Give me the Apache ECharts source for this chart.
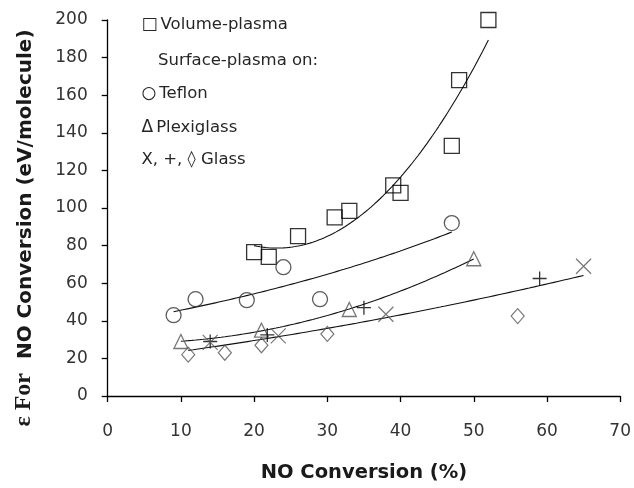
<!DOCTYPE html>
<html>
<head>
<meta charset="utf-8">
<script src="https://cdn.jsdelivr.net/npm/echarts@6/dist/echarts.min.js"></script>
<style>html,body{margin:0;padding:0;background:#fff}#c{width:634px;height:488px}</style>
</head>
<body>
<div id="c"></div>
<script>
// ---- data ----
const xTicks = [0, 10, 20, 30, 40, 50, 60, 70];
const yTicks = [0, 20, 40, 60, 80, 100, 120, 140, 160, 180, 200];

const xVolume = [20, 22, 26, 31, 33, 39, 40, 47, 48, 52];
const yVolume = [76.5, 74, 85, 95, 98.5, 112, 108, 133, 168, 200];

const xTeflon = [9, 12, 19, 24, 29, 47];
const yTeflon = [43, 51.5, 51, 68.5, 51.5, 92];

const xPlexi = [10, 21, 33, 50];
const yPlexi = [29, 35, 46, 73];

const xGlassPlus = [14, 21.8, 35, 59];
const yGlassPlus = [29, 32.5, 47, 62.5];

const xGlassX = [14, 23.3, 38, 65];
const yGlassX = [28.5, 32, 43.5, 69];

const xGlassDiamond = [11, 16, 21, 30, 56];
const yGlassDiamond = [22, 23, 27, 33, 42.5];

const xTitle = 'NO Conversion (%)';
const yTitleSymbol = '\u03B5 For';
const yTitleText = '  NO Conversion (eV/molecule)';
const legendSymbols = ['\u25A1', '', '\u25CB', '\u0394', ''];
const legendTexts = ['Volume-plasma', 'Surface-plasma on:', 'Teflon', 'Plexiglass', 'X, +, \u25CA Glass'];

// ---- helpers ----
function pairs(xs, ys) { return xs.map((x, i) => [x, ys[i]]); }
function polyFit2(xs, ys) {
  const n = xs.length; let S = [0,0,0,0,0], T = [0,0,0];
  for (let i = 0; i < n; i++) {
    let p = 1;
    for (let k = 0; k < 5; k++) { S[k] += p; if (k < 3) T[k] += p * ys[i]; p *= xs[i]; }
  }
  const A = [[S[0],S[1],S[2],T[0]],[S[1],S[2],S[3],T[1]],[S[2],S[3],S[4],T[2]]];
  for (let c = 0; c < 3; c++) {
    let piv = c; for (let r = c+1; r < 3; r++) if (Math.abs(A[r][c]) > Math.abs(A[piv][c])) piv = r;
    [A[c], A[piv]] = [A[piv], A[c]];
    for (let r = 0; r < 3; r++) if (r !== c) { const f = A[r][c] / A[c][c]; for (let k = c; k < 4; k++) A[r][k] -= f * A[c][k]; }
  }
  const c0 = A[0][3]/A[0][0], c1 = A[1][3]/A[1][1], c2 = A[2][3]/A[2][2];
  return x => c0 + c1*x + c2*x*x;
}
function expFit(xs, ys) {
  const n = xs.length; const ly = ys.map(Math.log);
  const mx = xs.reduce((a,b)=>a+b,0)/n, my = ly.reduce((a,b)=>a+b,0)/n;
  let sxy = 0, sxx = 0; for (let i = 0; i < n; i++) { sxy += (xs[i]-mx)*(ly[i]-my); sxx += (xs[i]-mx)**2; }
  const b = sxy/sxx, a = Math.exp(my - b*mx);
  return x => a*Math.exp(b*x);
}
function trend(xs, f) {
  const lo = Math.min(...xs), hi = Math.max(...xs), out = [];
  for (let i = 0; i <= 80; i++) { const x = lo + (hi-lo)*i/80; out.push([x, f(x)]); }
  return out;
}

const xGlassAll = xGlassX.concat(xGlassPlus, xGlassDiamond);
const yGlassAll = yGlassX.concat(yGlassPlus, yGlassDiamond);

const FONT = 'DejaVu Sans';
const TXT = '#262626';
const chart = echarts.init(document.getElementById('c'), null, {renderer: 'canvas'});

function hollow(name, xs, ys, symbol, size, color, bw) {
  return { name, type: 'scatter', data: pairs(xs, ys), symbol, symbolSize: size, clip: false, z: 3,
    itemStyle: { color: 'rgba(0,0,0,0)', borderColor: color, borderWidth: bw || 1.2 } };
}
function trendLine(data) {
  return { type: 'line', data, showSymbol: false, silent: true, smooth: false, z: 2,
    lineStyle: { color: '#111', width: 1.1 } };
}
const legendY = [25, 61, 94, 128, 160];
const legendX = [141.5, 158, 141.5, 141.5, 141.5];
const legendGraphics = legendTexts.map((t, i) => ({
  type: 'text', x: legendX[i], y: legendY[i],
  style: {
    text: (legendSymbols[i] ? '{s|' + legendSymbols[i] + '}' : '') + '{t|' + t + '}',
    verticalAlign: 'middle',
    rich: {
      s: { fontFamily: FONT, fontSize: 17, fill: TXT, padding: [0, 3, 0, 0] },
      t: { fontFamily: FONT, fontSize: 16.5, fill: TXT }
    }
  }
}));

chart.setOption({
  animation: false,
  grid: { left: 107.7, right: 11, top: 20, bottom: 92, containLabel: false },
  xAxis: {
    type: 'value', min: xTicks[0], max: xTicks[xTicks.length-1], interval: 10,
    name: xTitle, nameLocation: 'middle', nameGap: 67,
    nameTextStyle: { fontFamily: FONT, fontWeight: 'bold', fontSize: 19.5, color: '#1a1a1a' },
    axisLine: { lineStyle: { color: '#000', width: 1.3 } },
    axisTick: { show: true, length: 6, lineStyle: { color: '#000', width: 1.3 } },
    axisLabel: { margin: 27, fontFamily: FONT, fontSize: 17, color: '#333' },
    splitLine: { show: false }
  },
  yAxis: {
    type: 'value', min: yTicks[0], max: yTicks[yTicks.length-1], interval: 20,
    axisLine: { show: true, lineStyle: { color: '#000', width: 1.3 } },
    axisTick: { show: true, length: 6, lineStyle: { color: '#000', width: 1.3 } },
    axisLabel: { margin: 20, fontFamily: FONT, fontSize: 17, color: '#333' },
    splitLine: { show: false }
  },
  graphic: [
    { type: 'text', x: 24, y: 228, rotation: Math.PI/2,
      style: { text: '{e|' + yTitleSymbol + '}{b|' + yTitleText + '}', align: 'center', verticalAlign: 'middle',
        rich: { e: { fontFamily: 'Liberation Serif', fontSize: 24, fontWeight: 'bold', fill: '#1a1a1a', verticalAlign: 'bottom', lineHeight: 24 },
                b: { fontFamily: FONT, fontSize: 20, fontWeight: 'bold', fill: '#1a1a1a', verticalAlign: 'bottom', lineHeight: 24 } } } }
  ].concat(legendGraphics),
  series: [
    trendLine(trend(xVolume, polyFit2(xVolume, yVolume))),
    trendLine(trend(xTeflon, expFit(xTeflon, yTeflon))),
    trendLine(trend(xPlexi, polyFit2(xPlexi, yPlexi))),
    trendLine(trend(xGlassAll, polyFit2(xGlassAll, yGlassAll))),
    hollow('Volume-plasma', xVolume, yVolume, 'rect', 15, '#000', 1.3),
    hollow('Teflon', xTeflon, yTeflon, 'circle', 15, '#333', 1.3),
    hollow('Plexiglass', xPlexi, yPlexi, 'triangle', 14, '#555', 1.3),
    hollow('Glass +', xGlassPlus, yGlassPlus, 'path://M5,0L5,10M0,5L10,5', 14, '#000', 1.3),
    hollow('Glass X', xGlassX, yGlassX, 'path://M0,0L10,10M10,0L0,10', 15, '#555', 1.2),
    hollow('Glass diamond', xGlassDiamond, yGlassDiamond, 'diamond', [13, 15], '#555', 1.2)
  ]
});
</script>
</body>
</html>
